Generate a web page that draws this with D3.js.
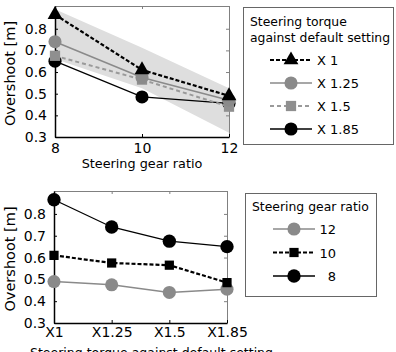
<!DOCTYPE html>
<html>
<head>
<meta charset="utf-8">
<script src="https://cdn.jsdelivr.net/npm/d3@7"></script>
<style>
  body { margin: 0; background: #fff; }
  svg { font-family: "DejaVu Sans", sans-serif; }
</style>
</head>
<body>
<div id="chart"></div>
<script>
// data
var gearRatios = [8, 10, 12];
var torqueTicks = ["X1", "X1.25", "X1.5", "X1.85"];
var torqueNames = ["X 1", "X 1.25", "X 1.5", "X 1.85"];
var yTicks = [0.3, 0.4, 0.5, 0.6, 0.7, 0.8];

// overshoot per torque setting, at gear ratio 8, 10, 12
var torqueX1 = [0.865, 0.61, 0.49];
var torqueX125 = [0.74, 0.575, 0.47];
var torqueX15 = [0.675, 0.565, 0.44];
var torqueX185 = [0.65, 0.485, 0.455];

// shaded band of the upper panel
var bandUpper = [0.89, 0.712, 0.525];
var bandLower = [0.66, 0.525, 0.32];

// overshoot per gear ratio, at torque X1, X1.25, X1.5, X1.85
var gear12 = [0.49, 0.475, 0.44, 0.455];
var gear10 = [0.61, 0.575, 0.565, 0.485];
var gear8 = [0.865, 0.74, 0.675, 0.65];

var svgWidth = 396;
var svgHeight = 352;

var svg = d3.select("#chart")
  .append("svg")
  .attr("width", svgWidth)
  .attr("height", svgHeight);

var styles = {
  blackDash: { stroke: "#000", width: 2.2, dash: "4,2", fill: "#000" },
  graySolid: { stroke: "#8a8a8a", width: 1.5, dash: null, fill: "#8a8a8a" },
  grayDash: { stroke: "#9a9a9a", width: 2, dash: "4,3", fill: "#8f8f8f" },
  blackSolid: { stroke: "#000", width: 1.3, dash: null, fill: "#000" }
};

function drawFrame(x, y, xTickValues, xFormat, box) {
  var g = svg.append("g");

  // top and right borders (grey, ticks inside)
  g.append("g")
    .attr("transform", `translate(0, ${box.top})`)
    .call(d3.axisTop(x).tickValues(xTickValues).tickSize(-3).tickSizeOuter(0).tickFormat(""))
    .call(a => a.selectAll("path, line").attr("stroke", "#808080"));
  g.append("g")
    .attr("transform", `translate(${box.right}, 0)`)
    .call(d3.axisRight(y).tickValues(yTicks).tickSize(-3).tickSizeOuter(0).tickFormat(""))
    .call(a => a.selectAll("path, line").attr("stroke", "#808080"));

  var bottomAxis = g.append("g")
    .attr("transform", `translate(0, ${box.bottom})`)
    .call(d3.axisBottom(x).tickValues(xTickValues).tickSize(-3).tickSizeOuter(0)
      .tickPadding(box.xPad).tickFormat(xFormat));
  bottomAxis.select(".domain").attr("stroke-width", 1.5);
  bottomAxis.selectAll("text").attr("font-size", "14px").attr("fill", "#000")
    .attr("font-family", "DejaVu Sans");

  var leftAxis = g.append("g")
    .attr("transform", `translate(${box.left}, 0)`)
    .call(d3.axisLeft(y).tickValues(yTicks).tickSize(-3).tickSizeOuter(0)
      .tickPadding(8).tickFormat(d3.format(".1f")));
  leftAxis.select(".domain").attr("stroke-width", 1.5);
  leftAxis.selectAll("text").attr("font-size", "14px").attr("fill", "#000")
    .attr("font-family", "DejaVu Sans");

  svg.append("text")
    .attr("transform", `translate(15, ${(box.top + box.bottom) / 2 + 2}) rotate(-90)`)
    .attr("text-anchor", "middle")
    .attr("font-size", "14.5px")
    .text("Overshoot [m]");
}

function drawSeries(xs, values, x, y, st, symbol, size) {
  var pts = xs.map((d, i) => [x(d), y(values[i])]);
  svg.append("path")
    .attr("d", d3.line()(pts))
    .attr("fill", "none")
    .attr("stroke", st.stroke)
    .attr("stroke-width", st.width)
    .attr("stroke-dasharray", st.dash);
  svg.selectAll(null)
    .data(pts)
    .enter()
    .append("path")
    .attr("transform", d => `translate(${d[0]}, ${d[1]})`)
    .attr("d", d3.symbol().type(symbol).size(size))
    .attr("fill", st.fill);
}

function legendEntry(lx, ly, st, symbol, size, label, labelX, anchor) {
  svg.append("line")
    .attr("x1", lx - 21).attr("x2", lx + 21)
    .attr("y1", ly).attr("y2", ly)
    .attr("stroke", st.stroke)
    .attr("stroke-width", st.width)
    .attr("stroke-dasharray", st.dash);
  svg.append("path")
    .attr("transform", `translate(${lx}, ${ly})`)
    .attr("d", d3.symbol().type(symbol).size(size))
    .attr("fill", st.fill);
  svg.append("text")
    .attr("x", labelX).attr("y", ly + 5)
    .attr("text-anchor", anchor)
    .attr("font-size", "13px")
    .text(label);
}

// ---------- upper panel ----------
var boxA = { left: 55, right: 229, top: 6, bottom: 137, xPad: 6 };
var xA = d3.scaleLinear().domain([8, 12]).range([boxA.left, boxA.right]);
var yA = d3.scaleLinear().domain([0.3, 0.905]).range([boxA.bottom, boxA.top]);

var band = gearRatios.map((d, i) => ({ g: d, hi: bandUpper[i], lo: bandLower[i] }));
svg.append("path")
  .attr("d", d3.area().x(d => xA(d.g)).y0(d => yA(d.lo)).y1(d => yA(d.hi))(band))
  .attr("fill", "#dedede");

drawFrame(xA, yA, gearRatios, d3.format("d"), boxA);

drawSeries(gearRatios, torqueX185, xA, yA, styles.blackSolid, d3.symbolCircle, 135);
drawSeries(gearRatios, torqueX15, xA, yA, styles.grayDash, d3.symbolSquare, 105);
drawSeries(gearRatios, torqueX125, xA, yA, styles.graySolid, d3.symbolCircle, 135);
drawSeries(gearRatios, torqueX1, xA, yA, styles.blackDash, d3.symbolTriangle, 95);

svg.append("text")
  .attr("x", (boxA.left + boxA.right) / 2)
  .attr("y", 168)
  .attr("text-anchor", "middle")
  .attr("font-size", "12.8px")
  .text("Steering gear ratio");

// upper legend
svg.append("rect")
  .attr("x", 243.5).attr("y", 7.5).attr("width", 150).attr("height", 137)
  .attr("fill", "#fff").attr("stroke", "#666").attr("stroke-width", 1);
svg.append("text").attr("x", 250).attr("y", 26).attr("font-size", "12.4px").text("Steering torque");
svg.append("text").attr("x", 250).attr("y", 42).attr("font-size", "12.4px").text("against default setting");
var legA = [
  [styles.blackDash, d3.symbolTriangle, 95],
  [styles.graySolid, d3.symbolCircle, 135],
  [styles.grayDash, d3.symbolSquare, 105],
  [styles.blackSolid, d3.symbolCircle, 135]
];
legA.forEach(function(e, i) {
  legendEntry(291, 60 + i * 23, e[0], e[1], e[2], torqueNames[i], 317, "start");
});

// ---------- lower panel ----------
var boxB = { left: 54, right: 227, top: 191, bottom: 323, xPad: 4 };
var xB = d3.scalePoint().domain(torqueTicks).range([boxB.left, boxB.right]);
var yB = d3.scaleLinear().domain([0.3, 0.905]).range([boxB.bottom, boxB.top]);

drawFrame(xB, yB, torqueTicks, d => d, boxB);

drawSeries(torqueTicks, gear12, xB, yB, styles.graySolid, d3.symbolCircle, 135);
drawSeries(torqueTicks, gear10, xB, yB, styles.blackDash, d3.symbolSquare, 85);
drawSeries(torqueTicks, gear8, xB, yB, styles.blackSolid, d3.symbolCircle, 140);

svg.append("text")
  .attr("x", 30)
  .attr("y", 357)
  .attr("font-size", "12.5px")
  .text("Steering torque against default setting");

// lower legend
svg.append("rect")
  .attr("x", 245.5).attr("y", 193.5).attr("width", 131).attr("height", 103)
  .attr("fill", "#fff").attr("stroke", "#666").attr("stroke-width", 1);
svg.append("text").attr("x", 252).attr("y", 211).attr("font-size", "12.4px").text("Steering gear ratio");
var legB = [
  [styles.graySolid, d3.symbolCircle, 135, "12"],
  [styles.blackDash, d3.symbolSquare, 85, "10"],
  [styles.blackSolid, d3.symbolCircle, 140, "8"]
];
legB.forEach(function(e, i) {
  legendEntry(294, 229 + i * 23.5, e[0], e[1], e[2], e[3], 336, "end");
});
</script>
</body>
</html>
